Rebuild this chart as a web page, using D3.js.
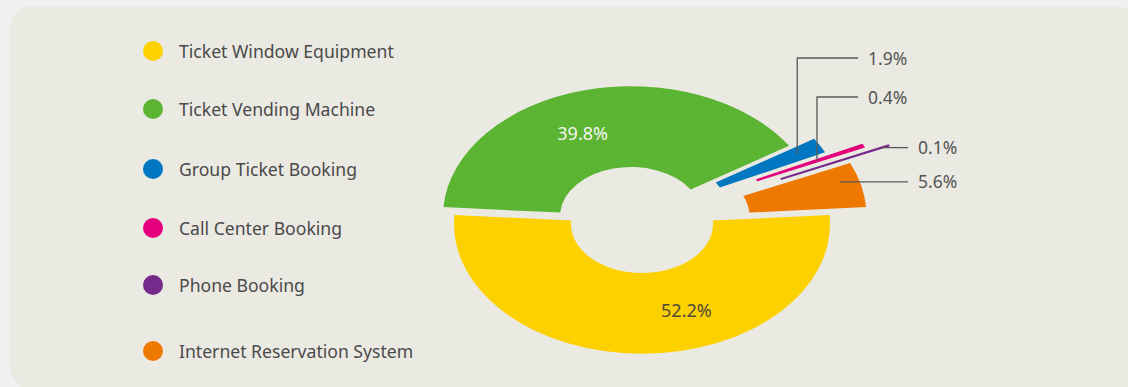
<!DOCTYPE html>
<html>
<head>
<meta charset="utf-8">
<script src="https://cdn.jsdelivr.net/npm/d3@7"></script>
<style>
  html, body { margin: 0; padding: 0; background: #f0f0f0; }
  svg { display: block; font-family: "Noto Sans", "Open Sans", sans-serif; }
</style>
</head>
<body>
<script>
const categories = [
  "Ticket Window Equipment",
  "Ticket Vending Machine",
  "Group Ticket Booking",
  "Call Center Booking",
  "Phone Booking",
  "Internet Reservation System"
];
const shares = [52.2, 39.8, 1.9, 0.4, 0.1, 5.6];
const labels = ["52.2%", "39.8%", "1.9%", "0.4%", "0.1%", "5.6%"];
const colors = ["#fdd000", "#5cb532", "#0077c0", "#e4007d", "#75298b", "#ee7800"];

// layout
const width = 1128, height = 387;
const cx = 642, cy = 216;
const rOuter = 188, rInner = 71, flat = 0.69;
const explode = [[0, 8], [-11, 0], [14, -7], [51, -15], [75, -17], [36.5, 0]];
const legendY = [51, 109, 169, 228, 285, 351];
// inside labels: angle (deg) and radius
const insideLabel = { 0: { a: 160.5, r: 133, fill: "#4d4a3a" }, 1: { a: 338, r: 129, fill: "#f4f4ee" } };
// outside labels with leader lines
const leaders = {
  2: { t: 0.5, r: 162, elbowY: 58, x2: 858, tx: 868 },
  3: { t: 0.5, r: 137, elbowY: 97, x2: 858, tx: 868 },
  4: { t: 0.5, r: 181, elbowY: null, x2: 908, tx: 918 },
  5: { t: 0.35, r: 169, elbowY: null, x2: 908, tx: 918 }
};

const svg = d3.select("body").append("svg")
  .attr("width", width)
  .attr("height", height);

svg.append("rect")
  .attr("x", 10).attr("y", 6)
  .attr("width", 1130).attr("height", 384)
  .attr("rx", 23)
  .attr("fill", "#eae9e2");

// legend
const legend = svg.append("g");
categories.forEach((c, i) => {
  legend.append("circle")
    .attr("cx", 153).attr("cy", legendY[i]).attr("r", 10)
    .attr("fill", colors[i]);
  legend.append("text")
    .attr("x", 179).attr("y", legendY[i] + 7)
    .attr("font-size", 17.6)
    .attr("fill", "#4a4a4a")
    .text(c);
});

const total = d3.sum(shares);
const start = Math.PI - Math.PI * shares[0] / total;
const pie = d3.pie().sort(null).value(d => d)
  .startAngle(start).endAngle(start + 2 * Math.PI);
const arcs = pie(shares);

const arc = d3.arc().innerRadius(rInner).outerRadius(rOuter);

// point on flattened slice i at angle a (radians, d3 convention) and radius r
function pt(i, a, r) {
  return [
    cx + explode[i][0] + r * Math.sin(a),
    cy + explode[i][1] - r * Math.cos(a) * flat
  ];
}

const slices = svg.append("g");
arcs.forEach((d, i) => {
  slices.append("g")
    .attr("transform", `translate(${cx + explode[i][0]},${cy + explode[i][1]}) scale(1,${flat})`)
    .append("path")
    .attr("d", arc(d))
    .attr("fill", colors[i])
    .attr("stroke", colors[i])
    .attr("stroke-width", shares[i] < 0.2 ? 2.2 : shares[i] < 1 ? 1.4 : 0);
});

// inside labels
Object.entries(insideLabel).forEach(([k, o]) => {
  const i = +k;
  const [x, y] = pt(i, o.a * Math.PI / 180, o.r);
  svg.append("text")
    .attr("x", x).attr("y", y + 6.5)
    .attr("text-anchor", "middle")
    .attr("font-size", 18)
    .attr("fill", o.fill)
    .text(labels[i]);
});

// leader lines
const lead = svg.append("g");
Object.entries(leaders).forEach(([k, o]) => {
  const i = +k;
  const d = arcs[i];
  const a = d.startAngle + (d.endAngle - d.startAngle) * o.t;
  const [x0, y0] = pt(i, a, o.r);
  const yl = o.elbowY == null ? y0 : o.elbowY;
  const pts = o.elbowY == null ? [[x0, y0], [o.x2, yl]] : [[x0, y0], [x0, yl], [o.x2, yl]];
  lead.append("path")
    .attr("d", d3.line()(pts))
    .attr("fill", "none")
    .attr("stroke", "#5a5a5a")
    .attr("stroke-width", 1.3);
  lead.append("text")
    .attr("x", o.tx).attr("y", yl + 6.5)
    .attr("font-size", 17.5)
    .attr("fill", "#555")
    .text(labels[i]);
});
</script>
</body>
</html>
